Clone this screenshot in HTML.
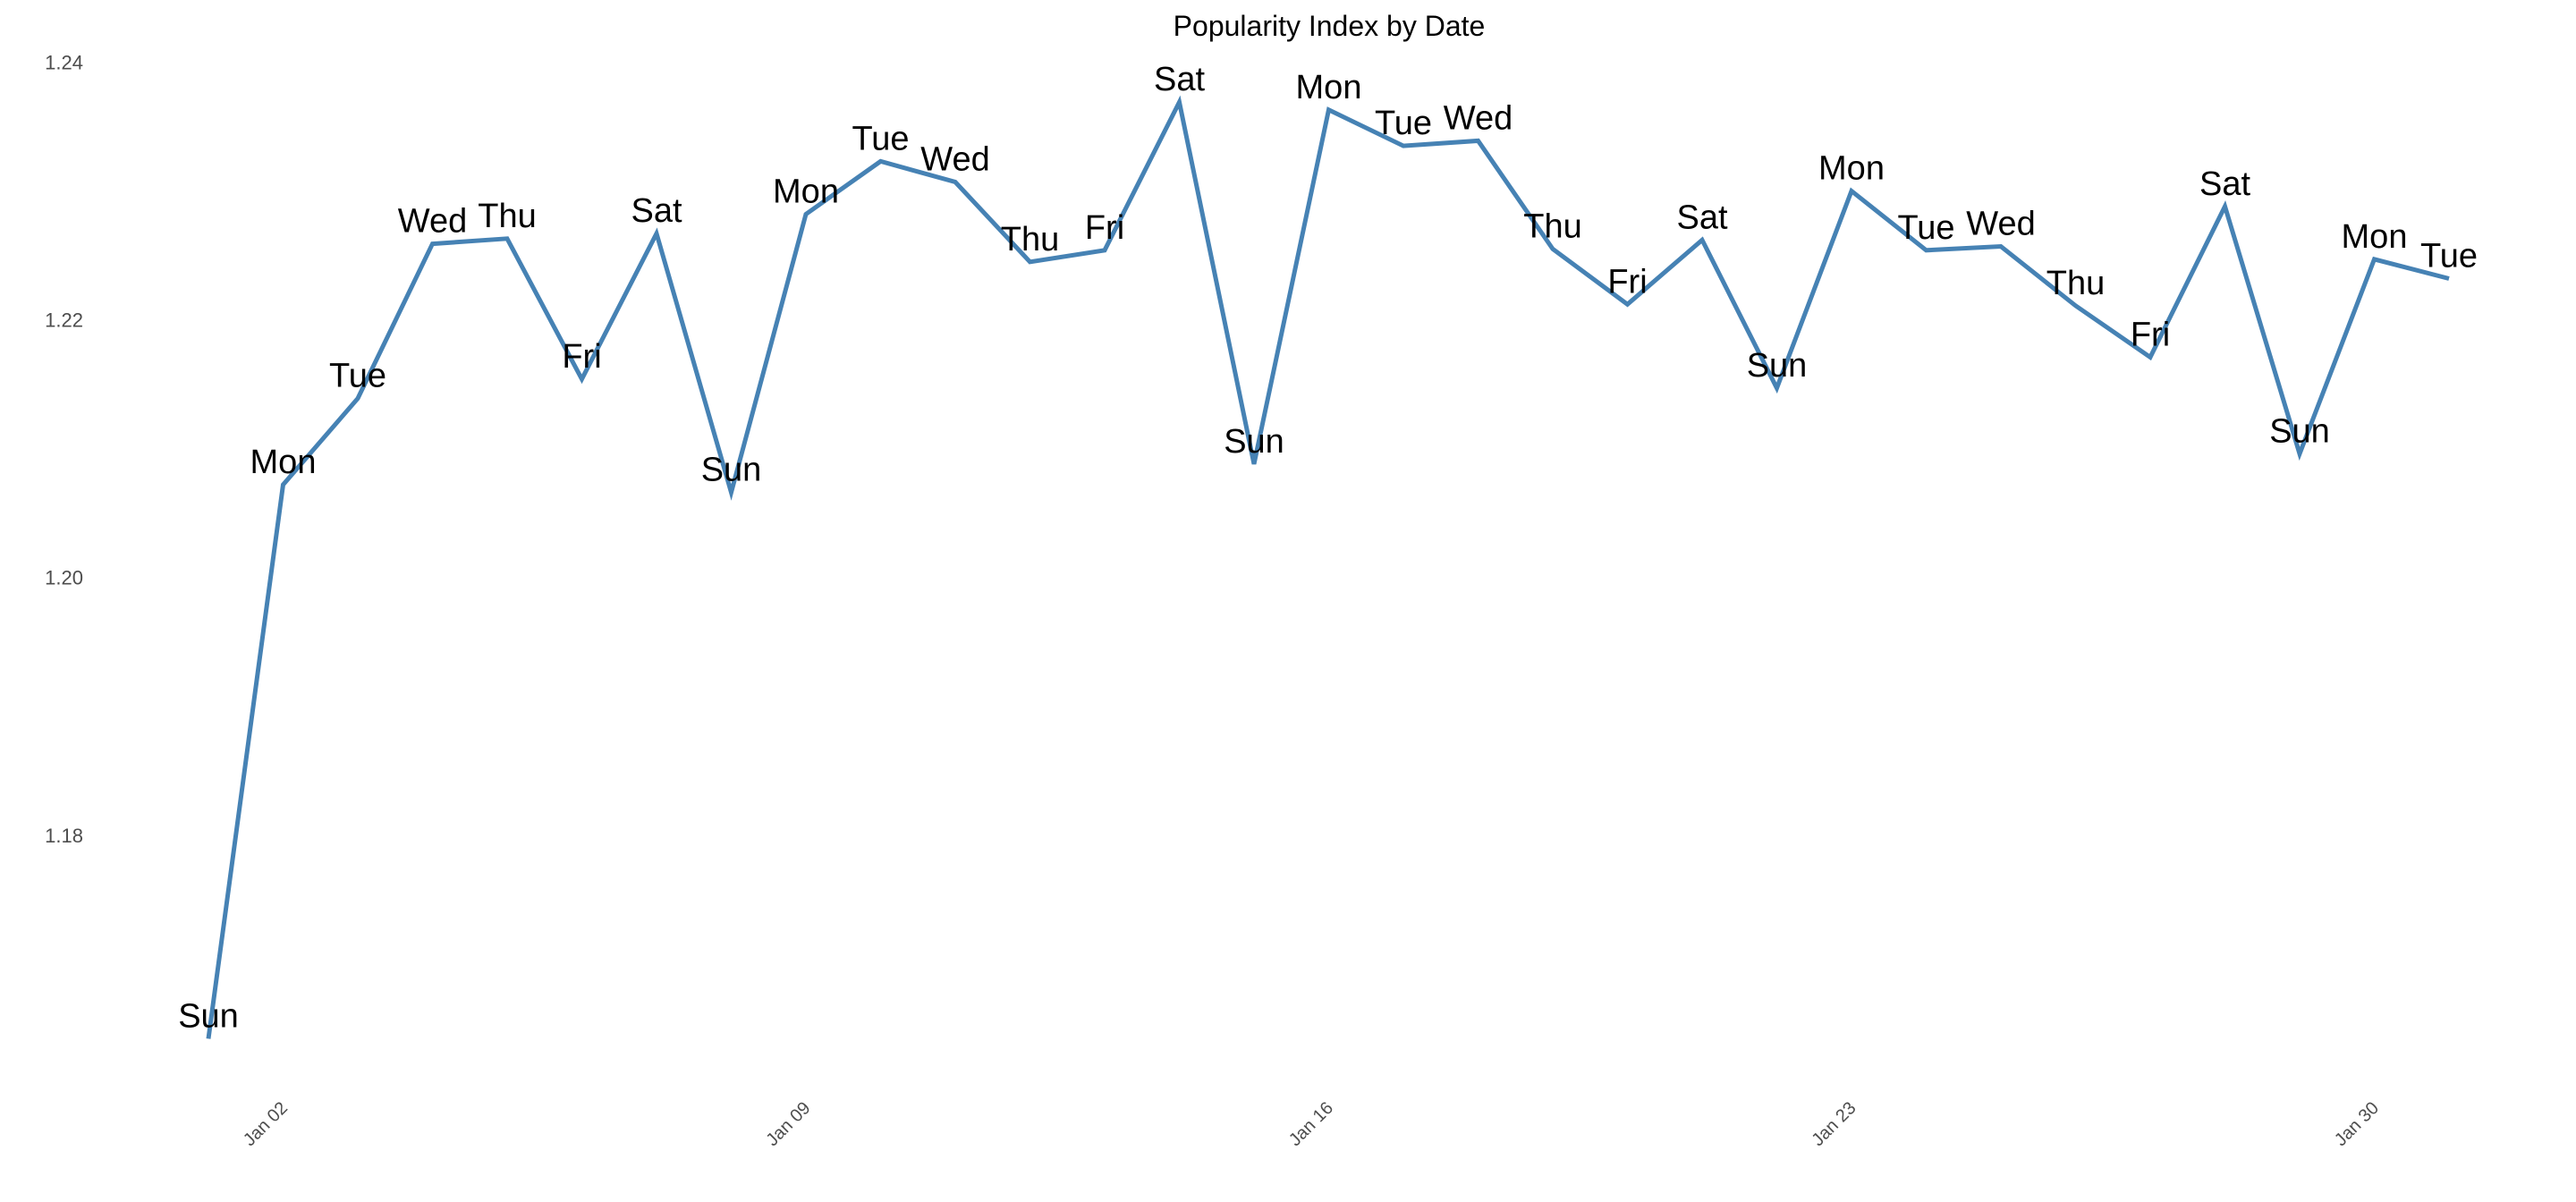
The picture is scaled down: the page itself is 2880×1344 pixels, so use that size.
<!DOCTYPE html>
<html><head><meta charset="utf-8"><style>
html,body{margin:0;padding:0;background:#fff;}
svg{display:block;font-family:"Liberation Sans",Arial,sans-serif;}
</style></head><body>
<svg id="chart" width="2880" height="1344" viewBox="0 0 2880 1344" xmlns="http://www.w3.org/2000/svg">
<text x="1486" y="40" font-size="32" text-anchor="middle" fill="#000">Popularity Index by Date</text>
<g id="yaxis"></g>
<g id="xaxis"></g>
<g id="series"></g>
<g id="labels"></g>
</svg>
<script>
const dayNums = [1,2,3,4,5,6,7,8,9,10,11,12,13,14,15,16,17,18,19,20,21,22,23,24,25,26,27,28,29,30,31];
const dayNames = ["Sun","Mon","Tue","Wed","Thu","Fri","Sat","Sun","Mon","Tue","Wed","Thu","Fri","Sat","Sun","Mon","Tue","Wed","Thu","Fri","Sat","Sun","Mon","Tue","Wed","Thu","Fri","Sat","Sun","Mon","Tue"];
const values = [1.1642,1.2072,1.2139,1.2259,1.2263,1.2154,1.2267,1.2066,1.2282,1.2323,1.2307,1.2245,1.2254,1.2369,1.2088,1.2363,1.2335,1.2339,1.2255,1.2212,1.2262,1.2147,1.2300,1.2254,1.2257,1.2211,1.2171,1.2288,1.2096,1.2247,1.2232];
const yTicks = [1.18,1.20,1.22,1.24];
const xTickDays = [2,9,16,23,30];
const xTickLabels = ["Jan 02","Jan 09","Jan 16","Jan 23","Jan 30"];

const NS = "http://www.w3.org/2000/svg";
function xScale(d){ return 233 + (d-1)*83.5; }
function yScale(v){ return 69.5 + (1.24 - v)/0.02*288.1; }

const yg = document.getElementById('yaxis');
yTicks.forEach(t=>{
  const tx = document.createElementNS(NS,'text');
  
  
  tx.setAttribute('x',93); tx.setAttribute('y',yScale(t)+8);
  tx.setAttribute('text-anchor','end'); tx.setAttribute('font-size','22'); tx.setAttribute('fill','#4d4d4d');
  tx.textContent = t.toFixed(2);
  yg.appendChild(tx);
});

const xg = document.getElementById('xaxis');
xTickDays.forEach((d,i)=>{
  const x = xScale(d)+6, y = 1240;
  const tx = document.createElementNS(NS,'text');
  
  
  tx.setAttribute('x',x); tx.setAttribute('y',y);
  tx.setAttribute('text-anchor','end'); tx.setAttribute('font-size','20'); tx.setAttribute('fill','#4d4d4d');
  tx.setAttribute('transform','rotate(-45 '+x+' '+y+')');
  tx.textContent = xTickLabels[i];
  xg.appendChild(tx);
});

const sg = document.getElementById('series');
const pts = dayNums.map((d,i)=>xScale(d).toFixed(1)+','+yScale(values[i]).toFixed(1)).join(' ');
const line = document.createElementNS(NS,'polyline');


line.setAttribute('points',pts);
line.setAttribute('fill','none'); line.setAttribute('stroke','#4682b4');
line.setAttribute('stroke-width','5'); line.setAttribute('stroke-linejoin','miter');
sg.appendChild(line);

const lg = document.getElementById('labels');
dayNums.forEach((d,i)=>{
  const tx = document.createElementNS(NS,'text');
  
  
  tx.setAttribute('x',xScale(d)); tx.setAttribute('y',yScale(values[i])-13);
  tx.setAttribute('text-anchor','middle'); tx.setAttribute('font-size','38'); tx.setAttribute('fill','#000');
  tx.textContent = dayNames[i];
  lg.appendChild(tx);
});
</script>
</body></html>
